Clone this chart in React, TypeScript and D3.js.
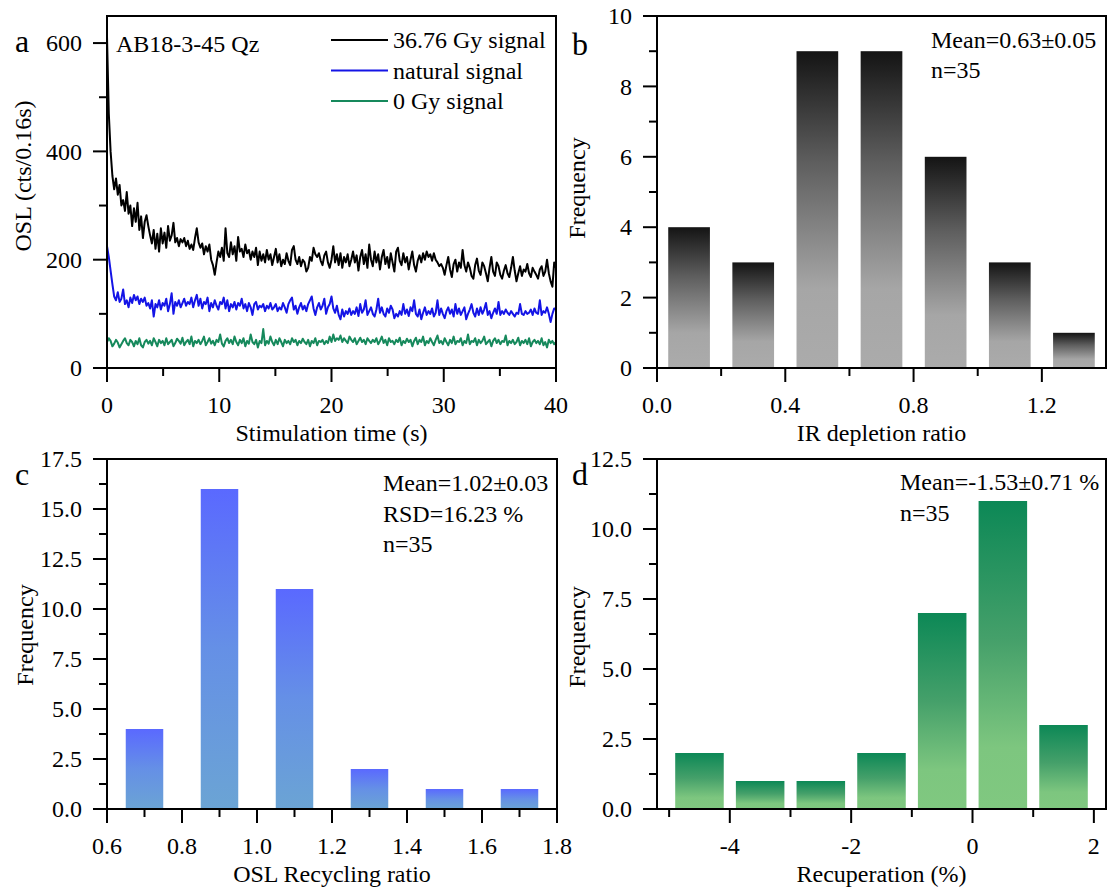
import React from 'react';
import * as d3 from 'd3';

const FONT = '"Liberation Serif", "Times New Roman", Times, serif';

// ---------- Panel a: OSL decay curves (0.16 s channels, 0–40 s) ----------
const oslTimeMax = 40;
const oslDose = [
  612, 470, 400, 355, 330, 350, 320, 338, 300, 310,
  290, 325, 285, 300, 262, 295, 270, 305, 255, 280,
  240, 270, 282, 262, 245, 230, 255, 220, 248, 215,
  258, 230, 250, 222, 262, 235, 245, 268, 232, 240,
  225, 238, 232, 240, 225, 235, 220, 228, 218, 240,
  258, 232, 222, 230, 210, 225, 215, 228, 200, 190,
  172, 195, 215, 205, 222, 198, 258, 212, 205, 232,
  210, 225, 198, 242, 215, 220, 205, 228, 212, 218,
  200, 215, 205, 222, 190, 215, 198, 210, 195, 218,
  200, 210, 190, 205, 220, 195, 210, 188, 200, 192,
  212, 198, 190, 218, 225, 200, 192, 205, 188, 200,
  195, 178, 185, 205, 198, 222, 210, 205, 212, 198,
  190, 208, 215, 195, 185, 200, 225, 195, 210, 190,
  212, 185, 205, 195, 210, 188, 200, 215, 195, 208,
  180, 205, 218, 192, 210, 185, 228, 200, 188, 215,
  195, 210, 182, 205, 218, 192, 205, 185, 212, 195,
  178, 215, 222, 198, 190, 212, 195, 205, 182, 200,
  215, 190, 178, 198, 208, 195, 212, 200, 215, 205,
  210, 198, 212, 200, 195, 188, 192, 185, 172, 190,
  205, 182, 168, 192, 200, 178, 195, 185, 218, 190,
  178, 195, 185, 170, 165, 190, 202, 180, 172, 195,
  188, 175, 160, 185, 205, 178, 170, 195, 188, 172,
  165, 180, 190, 175, 168, 185, 205, 180, 160, 175,
  188, 170, 182, 178, 192, 175, 168, 185, 178, 172,
  165, 182, 188, 170, 178, 200, 175, 160, 150, 195,
  185,
];
const oslNatural = [
  225, 205, 180, 155, 132, 125, 140, 122, 128, 145,
  118, 125, 112, 130, 120, 135, 125, 132, 118, 128,
  122, 130, 115, 120, 110, 125, 95, 118, 112, 125,
  108, 120, 115, 128, 105, 118, 138, 100, 122, 115,
  125, 112, 120, 128, 115, 122, 118, 130, 112, 125,
  135, 115, 128, 110, 122, 118, 130, 105, 120, 112,
  125, 115, 108, 122, 118, 130, 110, 125, 105, 118,
  112, 122, 108, 120, 115, 128, 110, 118, 105, 120,
  112, 98, 118, 122, 108, 115, 112, 118, 105, 115,
  110, 120, 108, 112, 118, 105, 112, 108, 120, 112,
  102, 118, 125, 130, 108, 115, 100, 112, 120, 108,
  115, 105, 118, 125, 132, 110, 98, 112, 120, 108,
  115, 128, 100, 112, 118, 132, 110, 102, 115, 98,
  90, 108, 95, 105, 100, 110, 98, 105, 100, 112,
  96, 118, 102, 108, 125, 98, 105, 112, 100, 95,
  108, 128, 102, 112, 100, 95, 110, 102, 115, 108,
  92, 100, 95, 105, 98, 118, 100, 108, 96, 112,
  105, 125, 100, 95, 108, 90, 102, 112, 98, 105,
  100, 110, 95, 102, 125, 98, 110, 100, 92, 105,
  112, 100, 108, 95, 118, 100, 110, 98, 105, 112,
  90, 100, 108, 118, 102, 95, 110, 98, 112, 100,
  108, 120, 98, 105, 92, 102, 110, 100, 122, 98,
  105, 100, 108, 102, 98, 105, 100, 95, 102, 100,
  118, 100, 98, 105, 100, 102, 108, 98, 110, 102,
  100, 125, 98, 105, 102, 112, 100, 85, 100, 110,
  108,
];
const oslZero = [
  48, 55, 50, 40, 45, 52, 47, 38, 44, 50,
  55, 46, 42, 52, 48, 40, 50, 44, 55, 42,
  38, 48, 52, 45, 50, 42, 55, 48, 40, 52,
  46, 50, 42, 55, 44, 48, 52, 40, 46, 54,
  50, 45, 56, 42, 48, 52, 44, 58, 40, 50,
  46, 52, 44, 50, 58, 42, 48, 55, 45, 50,
  42, 52, 48, 62, 45, 40, 50, 55, 46, 52,
  44, 58, 48, 42, 52, 46, 55, 40, 50, 45,
  62, 48, 44, 52, 38, 50, 46, 72, 42, 50,
  45, 58, 48, 42, 52, 44, 55, 48, 40, 52,
  46, 50, 44, 55, 48, 52, 42, 50, 46, 54,
  48, 44, 52, 40, 50, 46, 55, 42, 50, 48,
  52, 44, 50, 46, 58, 48, 62, 50, 55, 52,
  60, 48, 55, 50, 46, 58, 52, 48, 55, 44,
  50, 56, 48, 52, 44, 55, 50, 46, 52, 48,
  55, 44, 50, 58, 46, 52, 42, 55, 48, 50,
  44, 52, 48, 56, 42, 50, 46, 54, 48, 52,
  40, 50, 56, 44, 52, 48, 58, 42, 50, 46,
  55, 48, 42, 52, 60, 46, 50, 44, 55, 48,
  42, 52, 46, 58, 44, 50, 48, 55, 42, 50,
  46, 62, 44, 50, 48, 55, 42, 52, 46, 50,
  58, 44, 48, 52, 40, 50, 55, 46, 52, 44,
  50, 48, 60, 42, 50, 46, 52, 44, 48, 56,
  42, 50, 46, 52, 44, 55, 40, 48, 52, 46,
  50, 44, 55, 42, 48, 38, 52, 46, 50, 44,
  48,
];
const oslSeriesNames = ['36.76 Gy signal', 'natural signal', '0 Gy signal'];
const oslSeriesColors = ['#000000', '#1414e6', '#16895c'];
const aXTicks = [0, 10, 20, 30, 40];
const aXMinor = [5, 15, 25, 35];
const aYTicks = [0, 200, 400, 600];
const aYMinor = [100, 300, 500];

// ---------- Panel b: IR depletion ratio ----------
const irCenters = [0.1, 0.3, 0.5, 0.7, 0.9, 1.1, 1.3];
const irFreq = [4, 3, 9, 9, 6, 3, 1];
const bXTicks = [0, 0.4, 0.8, 1.2];
const bXMinor = [0.2, 0.6, 1.0];
const bYTicks = [0, 2, 4, 6, 8, 10];
const bYMinor = [1, 3, 5, 7, 9];

// ---------- Panel c: OSL recycling ratio ----------
const recCenters = [0.7, 0.9, 1.1, 1.3, 1.5, 1.7];
const recFreq = [4, 16, 11, 2, 1, 1];
const cXTicks = [0.6, 0.8, 1.0, 1.2, 1.4, 1.6, 1.8];
const cXMinor = [0.7, 0.9, 1.1, 1.3, 1.5, 1.7];
const cYTicks = [0, 2.5, 5, 7.5, 10, 12.5, 15, 17.5];
const cYMinor = [1.25, 3.75, 6.25, 8.75, 11.25, 13.75, 16.25];

// ---------- Panel d: Recuperation ----------
const recupCenters = [-4.5, -3.5, -2.5, -1.5, -0.5, 0.5, 1.5];
const recupFreq = [2, 1, 1, 2, 7, 11, 3];
const dXTicks = [-4, -2, 0, 2];
const dXMinor = [-5, -3, -1, 1];
const dYTicks = [0, 2.5, 5, 7.5, 10, 12.5];
const dYMinor = [1.25, 3.75, 6.25, 8.75, 11.25];

const FS = 24;
const MAJ = 14;
const MIN = 8;

type Box = { l: number; r: number; t: number; b: number };

function Axes({ box, xs, ys, xTicks, xMinor, yTicks, yMinor, fx, fy }: any) {
  return (
    <g>
      <rect x={box.l} y={box.t} width={box.r - box.l} height={box.b - box.t} fill="none" stroke="#000" strokeWidth={2} />
      {xTicks.map((v: number) => (
        <g key={'xt' + v}>
          <line x1={xs(v)} x2={xs(v)} y1={box.b} y2={box.b + MAJ} stroke="#000" strokeWidth={2} />
          <text x={xs(v)} y={box.b + 45} textAnchor="middle" fontSize={FS} fontFamily={FONT}>{fx(v)}</text>
        </g>
      ))}
      {xMinor.map((v: number) => (
        <line key={'xm' + v} x1={xs(v)} x2={xs(v)} y1={box.b} y2={box.b + MIN} stroke="#000" strokeWidth={2} />
      ))}
      {yTicks.map((v: number) => (
        <g key={'yt' + v}>
          <line x1={box.l - MAJ} x2={box.l} y1={ys(v)} y2={ys(v)} stroke="#000" strokeWidth={2} />
          <text x={box.l - 25} y={ys(v)} dy="0.34em" textAnchor="end" fontSize={FS} fontFamily={FONT}>{fy(v)}</text>
        </g>
      ))}
      {yMinor.map((v: number) => (
        <line key={'ym' + v} x1={box.l - MIN} x2={box.l} y1={ys(v)} y2={ys(v)} stroke="#000" strokeWidth={2} />
      ))}
    </g>
  );
}

function Label({ x, y, children, size = FS, rotate = false, anchor = 'start' }: any) {
  if (rotate) {
    return (
      <text transform={`translate(${x},${y}) rotate(-90)`} textAnchor="middle" fontSize={size} fontFamily={FONT}>{children}</text>
    );
  }
  return <text x={x} y={y} textAnchor={anchor} fontSize={size} fontFamily={FONT}>{children}</text>;
}

function Histogram({ box, xDomain, yDomain, centers, freq, width, grad }: any) {
  const xs = d3.scaleLinear().domain(xDomain).range([box.l, box.r]);
  const ys = d3.scaleLinear().domain(yDomain).range([box.b, box.t]);
  return (
    <g>
      {centers.map((c: number, i: number) => (
        <rect key={i} x={xs(c - width / 2)} width={xs(c + width / 2) - xs(c - width / 2)} y={ys(freq[i])} height={ys(0) - ys(freq[i])} fill={`url(#${grad})`} />
      ))}
    </g>
  );
}

export default function App() {
  const A: Box = { l: 107, r: 556, t: 16, b: 368 };
  const B: Box = { l: 657, r: 1106, t: 16, b: 368 };
  const C: Box = { l: 107, r: 557, t: 459, b: 809 };
  const D: Box = { l: 657, r: 1106, t: 459, b: 809 };

  const axs = d3.scaleLinear().domain([0, oslTimeMax]).range([A.l, A.r]);
  const ays = d3.scaleLinear().domain([0, 650]).range([A.b, A.t]);
  const series = [oslDose, oslNatural, oslZero];
  const line = (arr: number[]) =>
    d3.line<number>().x((_, i) => axs((i * oslTimeMax) / (arr.length - 1))).y((v) => ays(v))(arr) || '';

  const bxs = d3.scaleLinear().domain([0, 1.4]).range([B.l, B.r]);
  const bys = d3.scaleLinear().domain([0, 10]).range([B.b, B.t]);
  const cxs = d3.scaleLinear().domain([0.6, 1.8]).range([C.l, C.r]);
  const cys = d3.scaleLinear().domain([0, 17.5]).range([C.b, C.t]);
  const dxs = d3.scaleLinear().domain([-5.2, 2.2]).range([D.l, D.r]);
  const dys = d3.scaleLinear().domain([0, 12.5]).range([D.b, D.t]);

  const f1 = d3.format('.1f');
  const fint = (v: number) => String(v);

  return (
    <svg width={1113} height={892} style={{ position: 'absolute', left: 0, top: 0, background: '#fff' }}>
      <defs>
        <linearGradient id="gB" x1="0" y1="0" x2="0" y2="1">
          <stop offset="0" stopColor="#141414" />
          <stop offset="0.35" stopColor="#5e5e5e" />
          <stop offset="0.75" stopColor="#a6a6a6" />
          <stop offset="1" stopColor="#ababab" />
        </linearGradient>
        <linearGradient id="gC" x1="0" y1="0" x2="0" y2="1">
          <stop offset="0" stopColor="#5a69ff" />
          <stop offset="0.5" stopColor="#6590e6" />
          <stop offset="1" stopColor="#6ba4d4" />
        </linearGradient>
        <linearGradient id="gD" x1="0" y1="0" x2="0" y2="1">
          <stop offset="0" stopColor="#0c8856" />
          <stop offset="0.45" stopColor="#45a06a" />
          <stop offset="0.8" stopColor="#7dc67f" />
          <stop offset="1" stopColor="#80c880" />
        </linearGradient>
        <clipPath id="clipA">
          <rect x={A.l} y={A.t} width={A.r - A.l} height={A.b - A.t} />
        </clipPath>
      </defs>

      {/* Panel a */}
      <g clipPath="url(#clipA)">
        {series.map((arr, k) => (
          <path key={k} d={line(arr)} fill="none" stroke={oslSeriesColors[k]} strokeWidth={2} strokeLinejoin="round" />
        ))}
      </g>
      <Axes box={A} xs={axs} ys={ays} xTicks={aXTicks} xMinor={aXMinor} yTicks={aYTicks} yMinor={aYMinor} fx={fint} fy={fint} />
      <Label x={15} y={52} size={32}>a</Label>
      <Label x={116} y={52}>AB18-3-45 Qz</Label>
      {oslSeriesNames.map((n, k) => (
        <g key={n}>
          <line x1={331} x2={388} y1={40 + k * 30.5} y2={40 + k * 30.5} stroke={oslSeriesColors[k]} strokeWidth={2} />
          <Label x={393} y={48 + k * 30.5}>{n}</Label>
        </g>
      ))}
      <Label x={(A.l + A.r) / 2} y={A.b + 73} anchor="middle">Stimulation time (s)</Label>
      <Label x={31} y={176} rotate>OSL (cts/0.16s)</Label>

      {/* Panel b */}
      <Histogram box={B} xDomain={[0, 1.4]} yDomain={[0, 10]} centers={irCenters} freq={irFreq} width={0.13} grad="gB" />
      <Axes box={B} xs={bxs} ys={bys} xTicks={bXTicks} xMinor={bXMinor} yTicks={bYTicks} yMinor={bYMinor} fx={f1} fy={fint} />
      <Label x={572} y={55} size={32}>b</Label>
      <Label x={931} y={48}>Mean=0.63±0.05</Label>
      <Label x={931} y={78}>n=35</Label>
      <Label x={(B.l + B.r) / 2} y={B.b + 73} anchor="middle">IR depletion ratio</Label>
      <Label x={585} y={188} rotate>Frequency</Label>

      {/* Panel c */}
      <Histogram box={C} xDomain={[0.6, 1.8]} yDomain={[0, 17.5]} centers={recCenters} freq={recFreq} width={0.1} grad="gC" />
      <Axes box={C} xs={cxs} ys={cys} xTicks={cXTicks} xMinor={cXMinor} yTicks={cYTicks} yMinor={cYMinor} fx={f1} fy={f1} />
      <Label x={15} y={485} size={32}>c</Label>
      <Label x={383} y={491}>Mean=1.02±0.03</Label>
      <Label x={383} y={522}>RSD=16.23 %</Label>
      <Label x={383} y={552}>n=35</Label>
      <Label x={(C.l + C.r) / 2} y={C.b + 73} anchor="middle">OSL Recycling ratio</Label>
      <Label x={33} y={635} rotate>Frequency</Label>

      {/* Panel d */}
      <Histogram box={D} xDomain={[-5.2, 2.2]} yDomain={[0, 12.5]} centers={recupCenters} freq={recupFreq} width={0.8} grad="gD" />
      <Axes box={D} xs={dxs} ys={dys} xTicks={dXTicks} xMinor={dXMinor} yTicks={dYTicks} yMinor={dYMinor} fx={fint} fy={f1} />
      <Label x={572} y={485} size={32}>d</Label>
      <Label x={900} y={490}>Mean=-1.53±0.71 %</Label>
      <Label x={900} y={521}>n=35</Label>
      <Label x={(D.l + D.r) / 2} y={D.b + 73} anchor="middle">Recuperation (%)</Label>
      <Label x={585} y={637} rotate>Frequency</Label>
    </svg>
  );
}
